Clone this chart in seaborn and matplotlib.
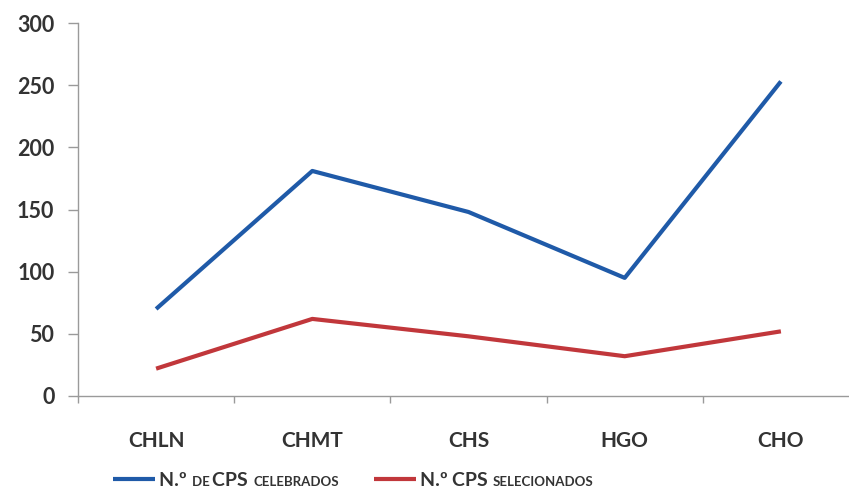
import pandas as pd
import matplotlib.pyplot as plt
import seaborn as sns
from matplotlib.lines import Line2D

# values
categories = ["CHLN", "CHMT", "CHS", "HGO", "CHO"]
celebrados = [70, 181, 148, 95, 253]
selecionados = [22, 62, 48, 32, 52]
yticks = [0, 50, 100, 150, 200, 250, 300]

BLUE = "#1f5aa8"
RED = "#c1373b"
TXT = "#333333"
AXC = "#9a9a9a"

sns.set_theme(style="white")
plt.rcParams["font.family"] = ["Lato", "DejaVu Sans"]
plt.rcParams["font.weight"] = "bold"

df = pd.DataFrame({
    "cat": categories * 2,
    "pos": list(range(len(categories))) * 2,
    "valor": celebrados + selecionados,
    "serie": ["cel"] * len(categories) + ["sel"] * len(categories),
})

fig = plt.figure(figsize=(8.49, 4.88), dpi=100)
ax = fig.add_axes([78 / 849, 92 / 488, 781 / 849, 373 / 488])

sns.lineplot(data=df, x="pos", y="valor", hue="serie", palette={"cel": BLUE, "sel": RED},
             linewidth=3.0, legend=False, ax=ax, solid_capstyle="butt")

ax.set_xlim(-0.5, len(categories) - 0.5)
ax.set_ylim(0, 300)
ax.set_xlabel("")
ax.set_ylabel("")

ax.set_yticks(yticks)
ax.set_yticklabels([str(v) for v in yticks])
ax.tick_params(axis="y", length=7, width=1, color=AXC, pad=10, labelsize=15.5, labelcolor=TXT, left=True)

ax.set_xticks(range(len(categories)))
ax.set_xticklabels(categories)
ax.set_xticks([i - 0.5 for i in range(len(categories) + 1)], minor=True)
ax.tick_params(axis="x", which="major", length=0, pad=25, labelsize=15, labelcolor=TXT)
ax.tick_params(axis="x", which="minor", length=5, width=1, color=AXC, bottom=True)
for t in ax.get_xticklabels() + ax.get_yticklabels():
    t.set_fontweight("bold")

for s in ["top", "right"]:
    ax.spines[s].set_visible(False)
for s in ["left", "bottom"]:
    ax.spines[s].set_color(AXC)
    ax.spines[s].set_linewidth(1)
ax.grid(False)

# legend drawn by hand, with small caps pieces
renderer = fig.canvas.get_renderer()


def legend_entry(x0, color, pieces, y=479):
    fig.add_artist(Line2D([x0 / 849, (x0 + 42) / 849], [1 - y / 488] * 2,
                          color=color, lw=3.0, solid_capstyle="butt"))
    x = x0 + 46
    for txt, size in pieces:
        t = fig.text(x / 849, 1 - 486 / 488, txt, fontsize=size, fontweight="bold",
                     color=TXT, va="baseline", ha="left")
        x += t.get_window_extent(renderer).width


legend_entry(113, BLUE, [("N.º ", 14), ("DE ", 9.5), ("CPS ", 14), ("CELEBRADOS", 9.5)])
legend_entry(374, RED, [("N.º ", 14), ("CPS ", 14), ("SELECIONADOS", 9.5)])

fig.savefig("out.png", dpi=100)
